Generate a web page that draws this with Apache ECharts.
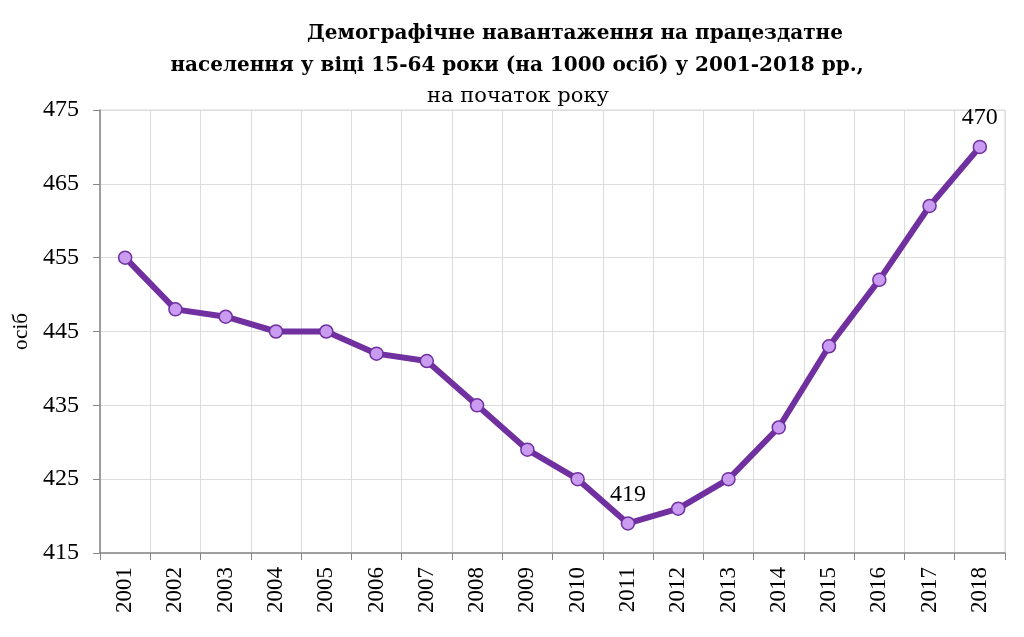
<!DOCTYPE html>
<html><head><meta charset="utf-8">
<script src="https://cdn.jsdelivr.net/npm/echarts@6/dist/echarts.min.js"></script>
<style>html,body{margin:0;padding:0;background:#fff}#c{width:1024px;height:637px}</style>
</head><body><div id="c"></div>
<script>
const years = ['2001','2002','2003','2004','2005','2006','2007','2008','2009','2010','2011','2012','2013','2014','2015','2016','2017','2018'];
const values = [455,448,447,445,445,442,441,435,429,425,419,421,425,432,443,452,462,470];
const labeledYears = ['2011','2018'];
const titleLine1 = 'Демографічне навантаження на працездатне';
const titleLine2 = 'населення у віці 15-64 роки (на 1000 осіб) у 2001-2018 рр.,';
const subtitle = 'на початок року';
const yName = 'осіб';

const serif = '"Liberation Serif","DejaVu Serif",serif';
const wideSerif = '"DejaVu Serif","Liberation Serif",serif';
const chart = echarts.init(document.getElementById('c'), null, {renderer:'canvas'});
chart.setOption({
  animation:false,
  backgroundColor:'#fff',
  title:[
    {text:titleLine1, left:570, top:19, textAlign:'center', textStyle:{fontFamily:wideSerif, fontWeight:'bold', fontSize:20, color:'#000'}},
    {text:titleLine2, left:512, top:51, textAlign:'center', textStyle:{fontFamily:wideSerif, fontWeight:'bold', fontSize:20, color:'#000'}},
    {text:subtitle, left:513, top:81, textAlign:'center', textStyle:{fontFamily:wideSerif, fontWeight:'normal', fontSize:21, color:'#000'}}
  ],
  grid:{left:100, right:19, top:110, bottom:84, show:true, borderColor:'#d9d9d9', borderWidth:1},
  xAxis:{
    type:'category', data:years, boundaryGap:true,
    axisLine:{lineStyle:{color:'#868686', width:1.5}},
    axisTick:{show:true, length:7, lineStyle:{color:'#868686'}},
    axisLabel:{rotate:90, fontFamily:serif, fontSize:23, color:'#000', margin:14},
    splitLine:{show:true, lineStyle:{color:'#dcdcdc', width:1}}
  },
  yAxis:{
    type:'value', min:415, max:475, interval:10,
    name:yName, nameLocation:'middle', nameGap:62, nameRotate:90,
    nameTextStyle:{fontFamily:serif, fontSize:21, color:'#000'},
    axisLine:{show:true, lineStyle:{color:'#868686', width:1.5}},
    axisTick:{show:true, length:7, lineStyle:{color:'#868686'}},
    axisLabel:{fontFamily:serif, fontSize:24, color:'#000', margin:21},
    splitLine:{show:true, lineStyle:{color:'#dcdcdc', width:1}}
  },
  series:[{
    type:'line', data:values.map((v,i)=>({value:v, label:{show:labeledYears.includes(years[i])}})),
    lineStyle:{color:'#7030a0', width:6},
    symbol:'circle', symbolSize:13,
    itemStyle:{color:'#c99cf2', borderColor:'#7030a0', borderWidth:1.5},
    label:{show:false, position:'top', distance:10, fontFamily:serif, fontSize:24, color:'#000'},
    z:3
  }]
});
</script></body></html>
